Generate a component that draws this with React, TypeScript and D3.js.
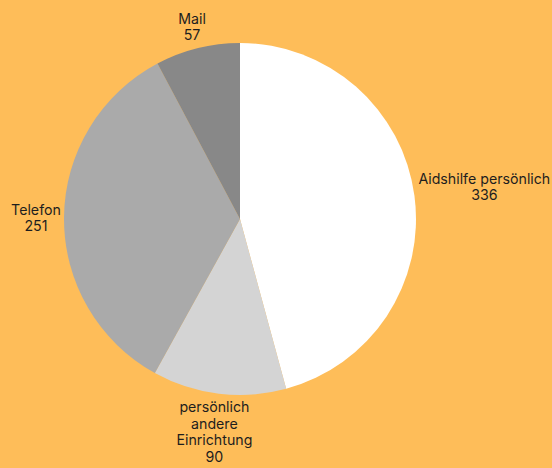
import React from "react";
import * as d3 from "d3";

const categories = ["Aidshilfe persönlich", "persönlich andere Einrichtung", "Telefon", "Mail"];
const labelLines = [["Aidshilfe persönlich"], ["persönlich", "andere", "Einrichtung"], ["Telefon"], ["Mail"]];
const values = [336, 90, 251, 57];
const colors = ["#ffffff", "#d4d4d4", "#aaaaaa", "#888888"];

const W = 552, H = 468;
const cx = 240, cy = 219, R = 176;
const lineH = 16.5;
const fontSize = 14.2;
const font = `${fontSize}px Inter, sans-serif`;

let ctx: CanvasRenderingContext2D | null = null;
function measure(s: string) {
  if (!ctx) ctx = document.createElement("canvas").getContext("2d");
  if (!ctx) return s.length * 7.5;
  ctx.font = font;
  return ctx.measureText(s).width;
}

export default function App() {
  const pie = d3.pie<number>().sort(null).value((d) => d)(values);
  const arc = d3.arc<d3.PieArcDatum<number>>().innerRadius(0).outerRadius(R);
  const gap = 3;
  return (
    <svg width={W} height={H} style={{ position: "absolute", left: 0, top: 0 }}
      fontFamily="Inter, sans-serif" fontSize={fontSize}>
      <rect width={W} height={H} fill="#febd59" />
      <g transform={`translate(${cx},${cy})`}>
        {pie.map((p, i) => (
          <path key={categories[i]} d={arc(p) || ""} fill={colors[i]} />
        ))}
      </g>
      {pie.map((p, i) => {
        const a = (p.startAngle + p.endAngle) / 2;
        const dx = Math.sin(a), dy = -Math.cos(a);
        const lines = [...labelLines[i], String(values[i])];
        const w = Math.max(...lines.map((l) => measure(l)));
        const h = lines.length * lineH;
        let d = R;
        let bcx = 0, bcy = 0;
        for (; d < R + 200; d += 0.5) {
          bcx = cx + d * dx;
          bcy = cy + d * dy;
          const nx = Math.max(bcx - w / 2, Math.min(cx, bcx + w / 2));
          const ny = Math.max(bcy - h / 2, Math.min(cy, bcy + h / 2));
          if (Math.hypot(nx - cx, ny - cy) >= R + gap) break;
        }
        const top = bcy - h / 2;
        return (
          <text key={i} textAnchor="middle" fill="#1e1e1e">
            {lines.map((l, j) => (
              <tspan key={j} x={bcx} y={top + lineH * j + lineH / 2} dominantBaseline="central">{l}</tspan>
            ))}
          </text>
        );
      })}
    </svg>
  );
}
